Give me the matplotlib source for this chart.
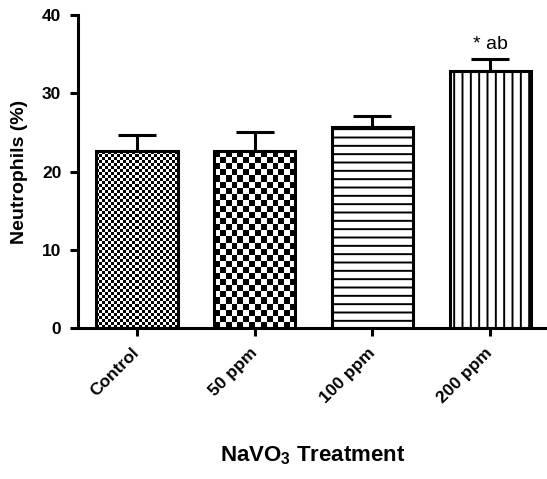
import numpy as np
from matplotlib import pyplot as plt

plt.rcParams['font.family'] = ['Liberation Sans', 'DejaVu Sans']
plt.rcParams['mathtext.fontset'] = 'custom'
plt.rcParams['mathtext.rm'] = 'Liberation Sans:bold'
plt.rcParams['mathtext.bf'] = 'Liberation Sans:bold'
plt.rcParams['hatch.linewidth'] = 1.4

groups = ['Control', '50 ppm', '100 ppm', '200 ppm']
means = [22.6, 22.6, 25.7, 32.8]
sems = [2.1, 2.4, 1.35, 1.6]
marks = ['', '', '', '* ab']
# fill style of each bar: checker cell size in px, or a hatch
checker_px = [3, 6, None, None]
hatches = [None, None, '--', '||']

fig = plt.figure(figsize=(5.47, 4.79), dpi=100)
ax = fig.add_axes([0.1426, 0.3152, 0.8574, 0.6535])

x = np.arange(len(groups))
bars = ax.bar(x, means, width=0.69, facecolor='none', edgecolor='black',
              linewidth=2.2, zorder=3)
for b, h in zip(bars, hatches):
    if h:
        b.set_hatch(h)

ax.errorbar(x, means, yerr=[np.zeros(len(means)), sems], fmt='none',
            ecolor='black', elinewidth=2.2, capsize=14, capthick=2.2, zorder=2)

ax.set_xlim(-0.5, 3.483)
ax.set_ylim(0, 40)

# checkerboard fills, clipped to the bars
fig.canvas.draw()
for b, cell in zip(bars, checker_px):
    if cell is None:
        continue
    x0, y0 = b.get_x(), b.get_y()
    x1, y1 = x0 + b.get_width(), y0 + b.get_height()
    (px0, py0), (px1, py1) = ax.transData.transform([(x0, y0), (x1, y1)])
    nx = max(1, int(round((px1 - px0) / cell)))
    ny = max(1, int(round((py1 - py0) / cell)))
    board = np.indices((ny, nx)).sum(axis=0) % 2
    im = ax.imshow(board, cmap='gray', extent=(x0, x1, y0, y1), aspect='auto',
                   interpolation='nearest', origin='lower', zorder=2.5)
    im.set_clip_path(b)
ax.set_xlim(-0.5, 3.483)
ax.set_ylim(0, 40)

for xi, m, s, t in zip(x, means, sems, marks):
    if t:
        ax.text(xi, m + s + 0.8, t, ha='center', va='bottom', fontsize=14)

for side in ['top', 'right']:
    ax.spines[side].set_visible(False)
for side in ['left', 'bottom']:
    ax.spines[side].set_linewidth(2.2)

ax.set_yticks([0, 10, 20, 30, 40])
ax.set_xticks(x)
ax.set_xticklabels(groups, rotation=45, ha='right', va='center',
                   rotation_mode='anchor', fontweight='bold', fontsize=12.5)
ax.tick_params(axis='both', width=2.2, length=6, direction='out')
ax.tick_params(axis='x', pad=10)
ax.tick_params(axis='y', pad=6)
for lab in ax.get_yticklabels():
    lab.set_fontweight('bold')
    lab.set_fontsize(12.5)

ax.set_ylabel('Neutrophils (%)', fontweight='bold', fontsize=14, labelpad=10)
ax.set_xlabel(r'NaVO$_\mathbf{3}$ Treatment', fontweight='bold', fontsize=16,
              labelpad=28)

fig.savefig('out.png', dpi=100)
